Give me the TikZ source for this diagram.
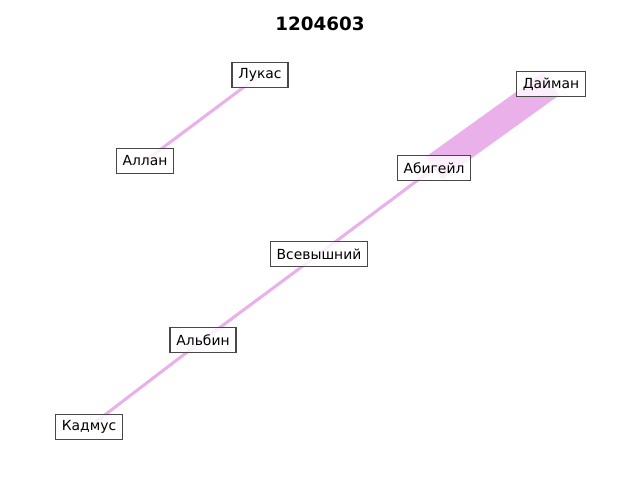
\documentclass[tikz,border=0pt]{standalone}
\usepackage{fontspec}
\setmainfont{DejaVu Sans}
\definecolor{edgec}{RGB}{234,176,234}
\definecolor{boxc}{RGB}{72,72,72}
\begin{document}
\begin{tikzpicture}[x=0.72pt,y=-0.72pt,
  lbl/.style={draw=boxc,line width=0.75pt,fill=white,fill opacity=0.8,text opacity=1,draw opacity=1,
    font=\fontsize{10}{12}\selectfont,inner xsep=4.6pt,inner ysep=0pt,minimum height=18.6pt},
  thin/.style={draw=edgec,line width=2.2pt,line cap=butt},
  thick/.style={draw=edgec,line width=20pt,line cap=butt}]
\useasboundingbox (0,0) rectangle (640,480);
\node[font=\fontsize{13.2}{15}\selectfont\bfseries] (title) at (320,24) {1204603};
\coordinate (cL) at (260,75);
\coordinate (cA) at (145,161);
\coordinate (cD) at (551,84);
\coordinate (cAb) at (434,168);
\coordinate (cV) at (319,254);
\coordinate (cAl) at (203,340);
\coordinate (cK) at (89,427);
\draw[thin] (cA) -- (cL);
\draw[thin] (cK) -- (cAl);
\draw[thin] (cAl) -- (cV);
\draw[thin] (cV) -- (cAb);
\draw[thick] (cAb) -- (cD);
\node[lbl] (L) at (cL) {Лукас};
\node[lbl] (A) at (cA) {Аллан};
\node[lbl] (D) at (cD) {Дайман};
\node[lbl] (Ab) at (cAb) {Абигейл};
\node[lbl] (V) at (cV) {Всевышний};
\node[lbl] (Al) at (cAl) {Альбин};
\node[lbl] (K) at (cK) {Кадмус};
\end{tikzpicture}
\end{document}
